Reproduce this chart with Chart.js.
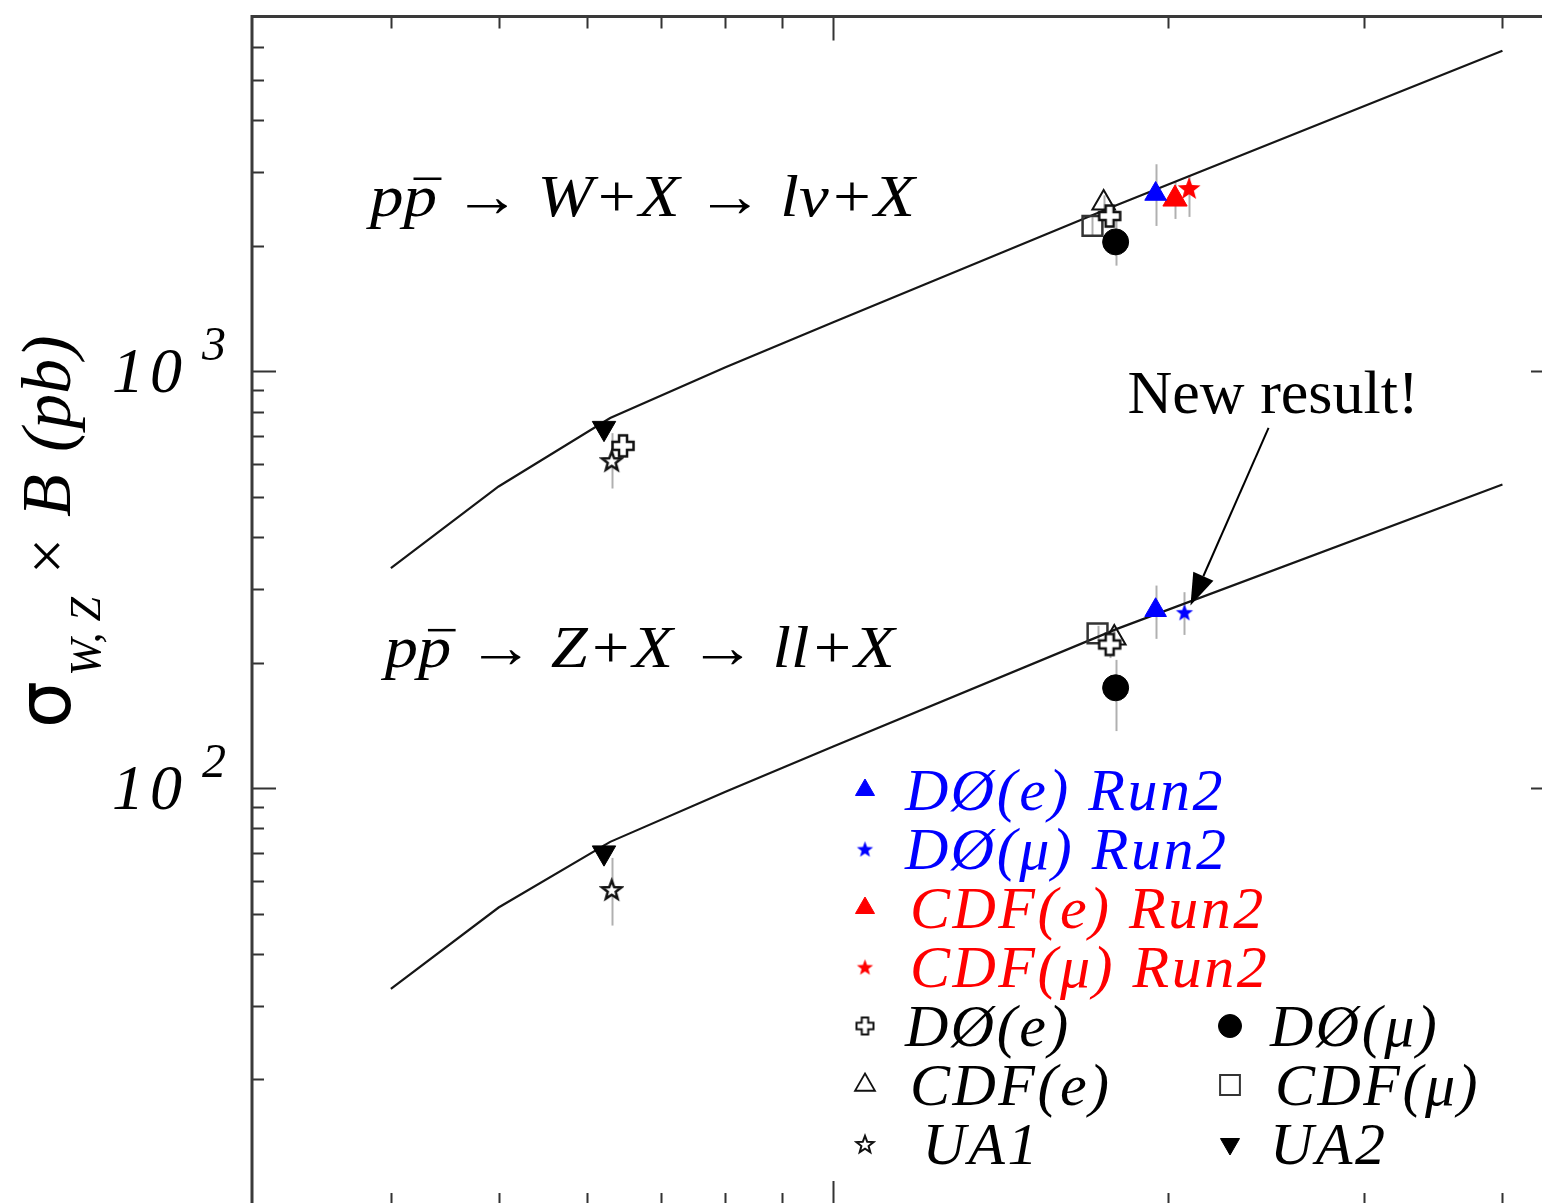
<!DOCTYPE html>
<html>
<head>
<meta charset="utf-8">
<script src="https://cdn.jsdelivr.net/npm/chart.js@4.4.1/dist/chart.umd.min.js"></script>
<style>
    html, body { margin: 0; padding: 0; background: #fff; overflow: hidden; }
    canvas { display: block; }
</style>
</head>
<body>
<canvas id="grafico-secao" width="1580" height="1230"></canvas>
<script>
// sqrt(s) em TeV, sigma x B em pb
const energiaTeoria = [0.4, 0.5, 0.63, 0.8, 1.0, 1.8, 4.0];
const teoriaW = [337, 529, 772, 1022, 1310, 2503, 5869];
const teoriaZ = [33.0, 51.7, 74.3, 98.0, 125.8, 240.9, 534.5];

// [sqrt(s), sigma x B, erro inferior, erro superior]
const d0eRun2 = [[1.95, 2660, 2230, 3135], [1.95, 267, 228, 306]];
const d0muRun2 = [[2.07, 264, 233, 295]];
const cdfeRun2 = [[2.03, 2587, 2318, 2850]];
const cdfmuRun2 = [[2.09, 2750, 2344, 2950]];
const d0e = [[0.647, 662, 630, 695], [1.773, 2355, 2250, 2460], [1.773, 221, 205, 236]];
const d0mu = [[1.795, 2042, 1791, 2330], [1.795, 174, 137, 203]];
const cdfe = [[1.751, 2530, 2420, 2640], [1.79, 229, 220, 238]];
const cdfmu = [[1.711, 2230, 2120, 2340], [1.729, 235, 225, 245]];
const ua1 = [[0.632, 610, 523, 710], [0.632, 57.1, 46.8, 68]];
const ua2 = [[0.622, 730, 700, 760], [0.622, 70.0, 66.5, 73.5]];

const xTicksMaiores = [1];
const xTicksMenores = [0.4, 0.5, 0.6, 0.7, 0.8, 0.9, 2, 3, 4];
const yTicksMaiores = [100, 1000];
const yTicksMenores = [20, 30, 40, 50, 60, 70, 80, 90, 200, 300, 400, 500, 600, 700, 800, 900, 2000, 3000, 4000, 5000, 6000];
const yRotulosBase = ['10', '10'];
const yRotulosExpoente = ['2', '3'];

const rotuloW = 'pp \u2192 W+X \u2192 l\u03bd+X';
const rotuloZ = 'pp \u2192 Z+X \u2192 ll+X';
const posicaoRotuloW = [0.383, 2359];
const posicaoRotuloZ = [0.395, 195];
const textoNovo = 'New result!';
const posicaoTextoNovo = [1.84, 794];
const setaNovo = [[2.464, 731], [2.096, 274]];

const COR_AZUL = '#0000ff';
const COR_VERMELHA = '#ff0000';
const FONTE_SERIFA = '"Liberation Serif", "Times New Roman", serif';

function criarEstrela(tamanho, preenchimento, contorno, espessura) {
    const c = document.createElement('canvas');
    c.width = tamanho;
    c.height = tamanho;
    const g = c.getContext('2d');
    const raio = tamanho / 2 - espessura;
    const interno = raio * 0.42;
    const cx = tamanho / 2;
    const cy = tamanho / 2 + raio * 0.1;
    g.beginPath();
    for (let i = 0; i < 10; i++) {
        const a = -Math.PI / 2 + i * Math.PI / 5;
        const r = i % 2 ? interno : raio;
        g.lineTo(cx + r * Math.cos(a), cy + r * Math.sin(a));
    }
    g.closePath();
    g.fillStyle = preenchimento;
    g.fill();
    if (contorno) {
        g.lineWidth = espessura;
        g.strokeStyle = contorno;
        g.stroke();
    }
    return c;
}

function criarCruzVazada(tamanho, espessura) {
    const c = document.createElement('canvas');
    c.width = tamanho;
    c.height = tamanho;
    const g = c.getContext('2d');
    const s = tamanho / 2 - espessura;
    const t = s * 0.38;
    const m = tamanho / 2;
    const pts = [[-t, -s], [t, -s], [t, -t], [s, -t], [s, t], [t, t], [t, s], [-t, s], [-t, t], [-s, t], [-s, -t], [-t, -t]];
    g.beginPath();
    pts.forEach(p => g.lineTo(m + p[0], m + p[1]));
    g.closePath();
    g.fillStyle = '#fff';
    g.fill();
    g.lineWidth = espessura;
    g.strokeStyle = '#111';
    g.stroke();
    return c;
}

const estilos = {
    d0eRun2: { forma: 'triangle', raio: 12.5, fundo: COR_AZUL, borda: COR_AZUL, espessura: 1 },
    d0muRun2: { imagem: criarEstrela(20, COR_AZUL, null, 1) },
    cdfeRun2: { forma: 'triangle', raio: 14, fundo: COR_VERMELHA, borda: COR_VERMELHA, espessura: 1 },
    cdfmuRun2: { imagem: criarEstrela(26, COR_VERMELHA, null, 1) },
    d0e: { imagem: criarCruzVazada(26, 2.5) },
    d0mu: { forma: 'circle', raio: 13, fundo: '#000', borda: '#000', espessura: 1 },
    cdfe: { forma: 'triangle', raio: 13, fundo: 'rgba(0,0,0,0)', borda: '#111', espessura: 2 },
    cdfmu: { forma: 'rect', raio: 14, fundo: 'rgba(0,0,0,0)', borda: '#333', espessura: 2.5 },
    ua1: { imagem: criarEstrela(25, '#fff', '#111', 2.5) },
    ua2: { forma: 'triangle', raio: 13.5, rotacao: 180, fundo: '#000', borda: '#000', espessura: 1 }
};

const estilosLegenda = {
    d0eRun2: { forma: 'triangle', raio: 11, fundo: COR_AZUL, borda: COR_AZUL, espessura: 1 },
    d0muRun2: { imagem: criarEstrela(19, COR_AZUL, null, 1) },
    cdfeRun2: { forma: 'triangle', raio: 11, fundo: COR_VERMELHA, borda: COR_VERMELHA, espessura: 1 },
    cdfmuRun2: { imagem: criarEstrela(19, COR_VERMELHA, null, 1) },
    d0e: { imagem: criarCruzVazada(21, 2) },
    d0mu: { forma: 'circle', raio: 11.5, fundo: '#000', borda: '#000', espessura: 1 },
    cdfe: { forma: 'triangle', raio: 11.5, fundo: 'rgba(0,0,0,0)', borda: '#111', espessura: 1.8 },
    cdfmu: { forma: 'rect', raio: 14, fundo: 'rgba(0,0,0,0)', borda: '#333', espessura: 2 },
    ua1: { imagem: criarEstrela(22, '#fff', '#111', 2) },
    ua2: { forma: 'triangle', raio: 11, rotacao: 180, fundo: '#000', borda: '#000', espessura: 1 }
};

function criarSerie(chave, label, pontos) {
    const e = estilos[chave];
    return {
        label,
        chave,
        data: pontos.map(p => ({ x: p[0], y: p[1], lo: p[2], hi: p[3] })),
        pointStyle: e.imagem || e.forma,
        pointRadius: e.raio || 10,
        pointRotation: e.rotacao || 0,
        backgroundColor: e.fundo || '#000',
        borderColor: e.borda || '#000',
        borderWidth: e.espessura || 1,
        showLine: false,
        order: 1
    };
}

function criarTeoria(label, valores) {
    return {
        label,
        data: energiaTeoria.map((e, i) => ({ x: e, y: valores[i] })),
        showLine: true,
        borderColor: '#161616',
        borderWidth: 2.2,
        pointRadius: 0,
        tension: 0,
        order: 5
    };
}

const fundoBranco = {
    id: 'fundoBranco',
    beforeDraw(chart) {
        const ctx = chart.ctx;
        ctx.save();
        ctx.fillStyle = '#fff';
        ctx.fillRect(0, 0, chart.width, chart.height);
        ctx.restore();
    }
};

const barrasErro = {
    id: 'barrasErro',
    beforeDatasetsDraw(chart) {
        const ctx = chart.ctx;
        const xs = chart.scales.x;
        const ys = chart.scales.y;
        ctx.save();
        ctx.strokeStyle = '#b0b0b0';
        ctx.lineWidth = 2;
        chart.data.datasets.forEach(ds => {
            ds.data.forEach(p => {
                if (p.lo === undefined) {
                    return;
                }
                const x = Math.round(xs.getPixelForValue(p.x)) + 0.5;
                ctx.beginPath();
                ctx.moveTo(x, ys.getPixelForValue(p.lo));
                ctx.lineTo(x, ys.getPixelForValue(p.hi));
                ctx.stroke();
            });
        });
        ctx.restore();
    }
};

const molduraEixos = {
    id: 'molduraEixos',
    afterDatasetsDraw(chart) {
        const ctx = chart.ctx;
        const a = chart.chartArea;
        const xs = chart.scales.x;
        const ys = chart.scales.y;
        ctx.save();
        ctx.strokeStyle = '#333';
        ctx.lineWidth = 2;
        const tickX = (v, comp) => {
            const x = Math.round(xs.getPixelForValue(v)) + 0.5;
            ctx.beginPath();
            ctx.moveTo(x, a.bottom);
            ctx.lineTo(x, a.bottom - comp);
            ctx.moveTo(x, a.top);
            ctx.lineTo(x, a.top + comp);
            ctx.stroke();
        };
        const tickY = (v, comp) => {
            const y = Math.round(ys.getPixelForValue(v)) + 0.5;
            ctx.beginPath();
            ctx.moveTo(a.left, y);
            ctx.lineTo(a.left + comp, y);
            ctx.moveTo(a.right, y);
            ctx.lineTo(a.right - comp, y);
            ctx.stroke();
        };
        xTicksMenores.forEach(v => tickX(v, 12));
        xTicksMaiores.forEach(v => tickX(v, 24));
        yTicksMenores.forEach(v => tickY(v, 12));
        yTicksMaiores.forEach(v => tickY(v, 24));

        ctx.strokeStyle = '#3a3a3a';
        ctx.lineWidth = 3;
        ctx.beginPath();
        ctx.moveTo(a.left, a.bottom);
        ctx.lineTo(a.left, a.top);
        ctx.lineTo(a.right, a.top);
        ctx.lineTo(a.right, a.bottom);
        ctx.closePath();
        ctx.stroke();

        // rotulos do eixo y
        ctx.fillStyle = '#000';
        ctx.textAlign = 'left';
        yTicksMaiores.forEach((v, i) => {
            const y = ys.getPixelForValue(v);
            ctx.font = `italic 64px ${FONTE_SERIFA}`;
            ctx.letterSpacing = '6px';
            ctx.textBaseline = 'alphabetic';
            ctx.fillText(yRotulosBase[i], a.left - 140, y + 21);
            ctx.letterSpacing = '0px';
            ctx.font = `italic 48px ${FONTE_SERIFA}`;
            ctx.fillText(yRotulosExpoente[i], a.left - 50, y - 11);
        });

        // titulo do eixo y
        ctx.save();
        ctx.translate(a.left - 182, 726);
        ctx.rotate(-Math.PI / 2);
        ctx.textBaseline = 'alphabetic';
        ctx.font = '74px "DejaVu Sans", sans-serif';
        ctx.fillText('\u03c3', -2, 0);
        ctx.font = `italic 44px ${FONTE_SERIFA}`;
        ctx.fillText('W, Z', 50, 30);
        ctx.font = `64px ${FONTE_SERIFA}`;
        ctx.fillText('\u00d7', 152, -2);
        ctx.font = `italic 70px ${FONTE_SERIFA}`;
        ctx.fillText('B', 209, 0);
        ctx.fillText('(pb)', 274, 0);
        ctx.restore();
        ctx.restore();
    }
};

function desenharRotuloProcesso(ctx, texto, x, y, largura) {
    ctx.save();
    ctx.font = `italic 60px ${FONTE_SERIFA}`;
    ctx.textAlign = 'left';
    ctx.textBaseline = 'alphabetic';
    const escala = largura / ctx.measureText(texto).width;
    ctx.translate(x, y);
    ctx.scale(escala, 1);
    ctx.fillText(texto, 0, 0);
    const wp = ctx.measureText('p').width;
    const wpp = ctx.measureText('pp').width;
    ctx.beginPath();
    ctx.lineWidth = 2.5;
    ctx.moveTo(wp + 9, -37);
    ctx.lineTo(wpp + 4, -37);
    ctx.stroke();
    ctx.restore();
}

function desenharMarcador(ctx, e, x, y) {
    ctx.save();
    if (e.imagem) {
        ctx.drawImage(e.imagem, x - e.imagem.width / 2, y - e.imagem.height / 2);
    } else {
        ctx.fillStyle = e.fundo;
        ctx.strokeStyle = e.borda;
        ctx.lineWidth = e.espessura;
        Chart.helpers.drawPoint(ctx, {
            pointStyle: e.forma,
            radius: e.raio,
            rotation: e.rotacao || 0,
            borderWidth: e.espessura
        }, x, y);
    }
    ctx.restore();
}

const anotacoes = {
    id: 'anotacoes',
    afterDraw(chart) {
        const ctx = chart.ctx;
        const xs = chart.scales.x;
        const ys = chart.scales.y;
        ctx.save();
        ctx.fillStyle = '#000';
        ctx.strokeStyle = '#000';
        desenharRotuloProcesso(ctx, rotuloW, xs.getPixelForValue(posicaoRotuloW[0]), ys.getPixelForValue(posicaoRotuloW[1]), 545);
        desenharRotuloProcesso(ctx, rotuloZ, xs.getPixelForValue(posicaoRotuloZ[0]), ys.getPixelForValue(posicaoRotuloZ[1]), 510);

        ctx.font = `62px ${FONTE_SERIFA}`;
        ctx.fillText(textoNovo, xs.getPixelForValue(posicaoTextoNovo[0]), ys.getPixelForValue(posicaoTextoNovo[1]));

        const x1 = xs.getPixelForValue(setaNovo[0][0]);
        const y1 = ys.getPixelForValue(setaNovo[0][1]);
        const x2 = xs.getPixelForValue(setaNovo[1][0]);
        const y2 = ys.getPixelForValue(setaNovo[1][1]);
        const ang = Math.atan2(y2 - y1, x2 - x1);
        const comp = 32;
        const meia = 11;
        ctx.lineWidth = 2;
        ctx.beginPath();
        ctx.moveTo(x1, y1);
        ctx.lineTo(x2 - comp * Math.cos(ang), y2 - comp * Math.sin(ang));
        ctx.stroke();
        ctx.beginPath();
        ctx.moveTo(x2, y2);
        ctx.lineTo(x2 - comp * Math.cos(ang) + meia * Math.sin(ang), y2 - comp * Math.sin(ang) - meia * Math.cos(ang));
        ctx.lineTo(x2 - comp * Math.cos(ang) - meia * Math.sin(ang), y2 - comp * Math.sin(ang) + meia * Math.cos(ang));
        ctx.closePath();
        ctx.fill();

        // legenda interna
        const itens = [
            ['d0eRun2', 0, 0, COR_AZUL], ['d0muRun2', 0, 1, COR_AZUL],
            ['cdfeRun2', 0, 2, COR_VERMELHA], ['cdfmuRun2', 0, 3, COR_VERMELHA],
            ['d0e', 0, 4, '#000'], ['cdfe', 0, 5, '#000'], ['ua1', 0, 6, '#000'],
            ['d0mu', 1, 4, '#000'], ['cdfmu', 1, 5, '#000'], ['ua2', 1, 6, '#000']
        ];
        ctx.font = `italic 60px ${FONTE_SERIFA}`;
        ctx.letterSpacing = '2.5px';
        ctx.textBaseline = 'alphabetic';
        itens.forEach(([chave, col, lin, cor]) => {
            const ds = chart.data.datasets.find(d => d.chave === chave);
            const mx = col ? 1230 : 865;
            const my = 790 + lin * 59;
            desenharMarcador(ctx, estilosLegenda[chave], mx, my);
            ctx.fillStyle = cor;
            const recuo = ds.label.startsWith('CDF') ? 5 : 0;
            ctx.fillText(ds.label, (col ? 1270 : 905) + recuo, my + 20);
        });
        ctx.letterSpacing = '0px';
        ctx.restore();
    }
};

new Chart(document.getElementById('grafico-secao'), {
    type: 'scatter',
    data: {
        datasets: [
            criarSerie('d0eRun2', 'D\u00d8(e) Run2', d0eRun2),
            criarSerie('d0muRun2', 'D\u00d8(\u03bc) Run2', d0muRun2),
            criarSerie('cdfeRun2', 'CDF(e) Run2', cdfeRun2),
            criarSerie('cdfmuRun2', 'CDF(\u03bc) Run2', cdfmuRun2),
            criarSerie('d0mu', 'D\u00d8(\u03bc)', d0mu),
            criarSerie('d0e', 'D\u00d8(e)', d0e),
            criarSerie('cdfe', 'CDF(e)', cdfe),
            criarSerie('cdfmu', 'CDF(\u03bc)', cdfmu),
            criarSerie('ua1', ' UA1', ua1),
            criarSerie('ua2', 'UA2', ua2),
            criarTeoria('Teoria W', teoriaW),
            criarTeoria('Teoria Z', teoriaZ)
        ]
    },
    options: {
        responsive: false,
        animation: false,
        devicePixelRatio: 1,
        layout: {
            padding: { left: 252, top: 12, right: 25, bottom: 25 }
        },
        plugins: {
            legend: { display: false },
            tooltip: { enabled: false }
        },
        scales: {
            x: { type: 'logarithmic', min: 0.3, max: 4.46, display: false },
            y: { type: 'logarithmic', min: 10, max: 7090, display: false }
        }
    },
    plugins: [fundoBranco, barrasErro, molduraEixos, anotacoes]
});
</script>
</body>
</html>
